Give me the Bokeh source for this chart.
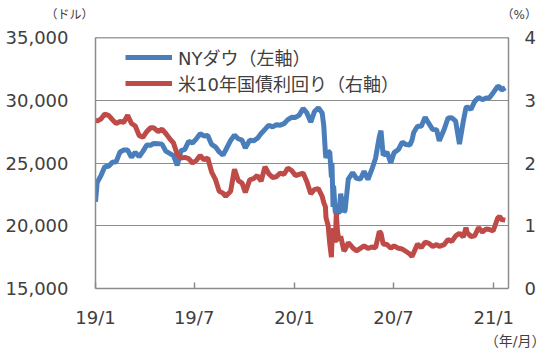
import pandas as pd
from bokeh.plotting import figure
from bokeh.models import (Range1d, LinearAxis, FixedTicker, NumeralTickFormatter,
                          Title, Span, Legend, LegendItem, ColumnDataSource, Grid)
from bokeh.embed import file_html
from bokeh.resources import INLINE

# ---- data ----
dates = [
    # 2019
    "2019-01-01", "2019-01-04", "2019-01-11", "2019-01-18", "2019-01-25",
    "2019-02-01", "2019-02-08", "2019-02-15", "2019-02-22",
    "2019-03-01", "2019-03-08", "2019-03-15", "2019-03-22", "2019-03-29",
    "2019-04-05", "2019-04-12", "2019-04-18", "2019-04-26",
    "2019-05-03", "2019-05-10", "2019-05-17", "2019-05-24", "2019-05-31",
    "2019-06-07", "2019-06-14", "2019-06-21", "2019-06-28",
    "2019-07-05", "2019-07-12", "2019-07-19", "2019-07-26",
    "2019-08-02", "2019-08-09", "2019-08-16", "2019-08-23", "2019-08-28",
    "2019-09-06", "2019-09-13", "2019-09-20", "2019-09-27",
    "2019-10-03", "2019-10-11", "2019-10-18", "2019-10-25",
    "2019-11-01", "2019-11-08", "2019-11-15", "2019-11-22", "2019-11-29",
    "2019-12-06", "2019-12-13", "2019-12-20", "2019-12-27",
    # 2020
    "2020-01-03", "2020-01-10", "2020-01-17", "2020-01-24", "2020-01-31",
    "2020-02-07", "2020-02-14", "2020-02-21", "2020-02-24", "2020-02-27", "2020-02-28",
    "2020-03-03", "2020-03-06", "2020-03-09", "2020-03-10", "2020-03-12", "2020-03-13",
    "2020-03-16", "2020-03-18", "2020-03-20", "2020-03-23", "2020-03-26",
    "2020-04-01", "2020-04-03", "2020-04-09", "2020-04-17", "2020-04-24",
    "2020-05-01", "2020-05-08", "2020-05-15", "2020-05-22", "2020-05-29",
    "2020-06-05", "2020-06-08", "2020-06-12", "2020-06-19", "2020-06-26",
    "2020-07-02", "2020-07-10", "2020-07-17", "2020-07-24", "2020-07-31",
    "2020-08-04", "2020-08-07", "2020-08-14", "2020-08-21", "2020-08-28",
    "2020-09-04", "2020-09-11", "2020-09-18", "2020-09-23",
    "2020-10-02", "2020-10-09", "2020-10-16", "2020-10-23", "2020-10-30",
    "2020-11-06", "2020-11-11", "2020-11-13", "2020-11-20", "2020-11-27",
    "2020-12-04", "2020-12-11", "2020-12-18", "2020-12-24", "2020-12-31",
    # 2021
    "2021-01-08", "2021-01-12", "2021-01-15", "2021-01-22",
]

dow = [
    # 2019
    21900, 23433, 23996, 24706, 24737,
    25064, 25106, 25883, 26031,
    26026, 25450, 25849, 25502, 25929,
    26425, 26412, 26559, 26543,
    26505, 25942, 25764, 25586, 24815,
    25984, 26090, 26719, 26600,
    26922, 27332, 27154, 27192,
    26485, 26287, 25886, 25629, 26036,
    26797, 27220, 26935, 26820,
    26201, 26817, 26770, 26958,
    27347, 27681, 28005, 27876, 28051,
    28015, 28135, 28455, 28645,
    # 2020
    28635, 28824, 29348, 28990, 28256,
    29103, 29398, 28992, 27961, 25766, 25409,
    25917, 25865, 23851, 25018, 21500, 23186,
    21100, 21000, 21050, 21000, 22552,
    21100, 21200, 23719, 24242, 23775,
    23724, 24331, 23685, 24465, 25383,
    27111, 27572, 25606, 25871, 25016,
    25827, 26075, 26672, 26470, 26428,
    26828, 27433, 27931, 27930, 28654,
    28133, 27666, 27657, 26763,
    27683, 28587, 28606, 28336, 26502,
    28323, 29398, 29480, 29263, 29910,
    30218, 30046, 30179, 30200, 30606,
    # 2021
    31098, 31068, 30814, 30997,
]

yield10 = [
    # 2019
    2.68, 2.67, 2.70, 2.78, 2.76,
    2.69, 2.63, 2.66, 2.65,
    2.76, 2.63, 2.59, 2.44, 2.41,
    2.50, 2.56, 2.56, 2.50,
    2.54, 2.47, 2.39, 2.32, 2.14,
    2.08, 2.09, 2.07, 2.00,
    2.04, 2.12, 2.05, 2.08,
    1.86, 1.74, 1.55, 1.52, 1.47,
    1.55, 1.90, 1.72, 1.68,
    1.53, 1.73, 1.75, 1.80,
    1.71, 1.94, 1.83, 1.77, 1.78,
    1.84, 1.82, 1.92, 1.88,
    # 2020
    1.80, 1.82, 1.84, 1.70, 1.51,
    1.58, 1.59, 1.47, 1.37, 1.30, 1.13,
    1.00, 0.71, 0.50, 0.76, 0.86, 0.96,
    0.73, 1.20, 0.92, 0.76, 0.83,
    0.60, 0.62, 0.73, 0.65, 0.60,
    0.64, 0.68, 0.64, 0.66, 0.65,
    0.91, 0.88, 0.71, 0.70, 0.64,
    0.68, 0.64, 0.63, 0.59, 0.55,
    0.51, 0.57, 0.71, 0.65, 0.74,
    0.72, 0.67, 0.70, 0.67,
    0.70, 0.78, 0.75, 0.84, 0.88,
    0.82, 0.97, 0.89, 0.83, 0.84,
    0.97, 0.90, 0.95, 0.94, 0.92,
    # 2021
    1.12, 1.15, 1.10, 1.09,
]

x_tick_dates = ["2019-01-01", "2019-07-01", "2020-01-01", "2020-07-01", "2021-01-01"]
x_tick_labels = ["19/1", "19/7", "20/1", "20/7", "21/1"]
left_ticks = [15000, 20000, 25000, 30000, 35000]
right_ticks = [0, 1, 2, 3, 4]
x_start, x_end = "2019-01-01", "2021-01-28"

series_names = ["NYダウ（左軸）", "米10年国債利回り（右軸）"]
unit_left, unit_right, unit_x = "（ドル）", "（%）", "（年/月）"

assert len(dates) == len(dow) == len(yield10)


def ms(d):
    return pd.Timestamp(d).value / 1e6


BLUE = "#4A7EBB"
RED = "#BE4B48"
AXIS = "#8C8C8C"
TEXT = "#404040"
NUM_FONT = "DejaVu Sans"
JP_FONT = "DejaVu Sans, Noto Sans CJK JP"

src = ColumnDataSource(dict(x=[ms(d) for d in dates], dow=dow, yld=yield10))

p = figure(width=550, height=355, output_backend="svg", toolbar_location=None,
           x_range=Range1d(ms(x_start), ms(x_end)),
           y_range=Range1d(left_ticks[0], left_ticks[-1]),
           x_axis_type=None, y_axis_type=None,
           min_border_left=95, min_border_right=42,
           min_border_top=37, min_border_bottom=67)
p.extra_y_ranges = {"pct": Range1d(right_ticks[0], right_ticks[-1])}
p.outline_line_color = None
p.background_fill_color = "white"
p.border_fill_color = "white"

common = dict(axis_line_color=AXIS, axis_line_width=1.5,
              minor_tick_line_color=None,
              major_label_text_font=NUM_FONT,
              major_label_text_font_size="18px",
              major_label_text_color=TEXT)

yl = LinearAxis(ticker=FixedTicker(ticks=left_ticks),
                formatter=NumeralTickFormatter(format="0,0"),
                major_tick_line_color=None, major_label_standoff=21, **common)
p.add_layout(yl, "left")

yr = LinearAxis(y_range_name="pct", ticker=FixedTicker(ticks=right_ticks),
                major_tick_line_color=None, major_label_standoff=10, **common)
p.add_layout(yr, "right")

xt = [ms(d) for d in x_tick_dates]
xa = LinearAxis(ticker=FixedTicker(ticks=xt),
                major_label_overrides={t: l for t, l in zip(xt, x_tick_labels)},
                major_tick_in=6, major_tick_out=0,
                major_tick_line_color=AXIS, major_tick_line_width=1.5,
                major_label_standoff=18, **common)
p.add_layout(xa, "below")

p.add_layout(Grid(dimension=1, ticker=yl.ticker, grid_line_color=AXIS,
                  grid_line_width=1))
p.add_layout(Span(location=left_ticks[-1], dimension="width",
                  line_color="#404040", line_width=1.5))

r1 = p.line("x", "dow", source=src, line_color=BLUE, line_width=5)
r2 = p.line("x", "yld", source=src, y_range_name="pct", line_color=RED, line_width=5)

leg_style = dict(margin=0, padding=0, glyph_width=47, glyph_height=20,
                 label_height=20, label_standoff=6, border_line_color=None,
                 background_fill_alpha=0, label_text_font=JP_FONT,
                 label_text_font_size="18px", label_text_color=TEXT)
p.add_layout(Legend(items=[LegendItem(label=series_names[0], renderers=[r1])],
                    location=(30, 218), **leg_style))
p.add_layout(Legend(items=[LegendItem(label=series_names[1], renderers=[r2])],
                    location=(30, 192), **leg_style))

# unit captions (titles live outside the plot frame)
spacer = Title(text="\u3000", standoff=8, text_font_size="6px",
               text_color="white")
p.add_layout(spacer, "above")
gap = "\u3000" * 35
top_units = Title(text=unit_left + gap + unit_right, align="left", offset=-50,
                  standoff=0, text_font=JP_FONT, text_font_size="12px",
                  text_font_style="normal", text_color=TEXT)
p.add_layout(top_units, "above")
x_unit = Title(text=unit_x, align="right", offset=-37, standoff=0,
               text_font=JP_FONT, text_font_size="14px",
               text_font_style="normal", text_color=TEXT)
p.add_layout(x_unit, "below")

open("out.html", "w").write(file_html(p, INLINE))
